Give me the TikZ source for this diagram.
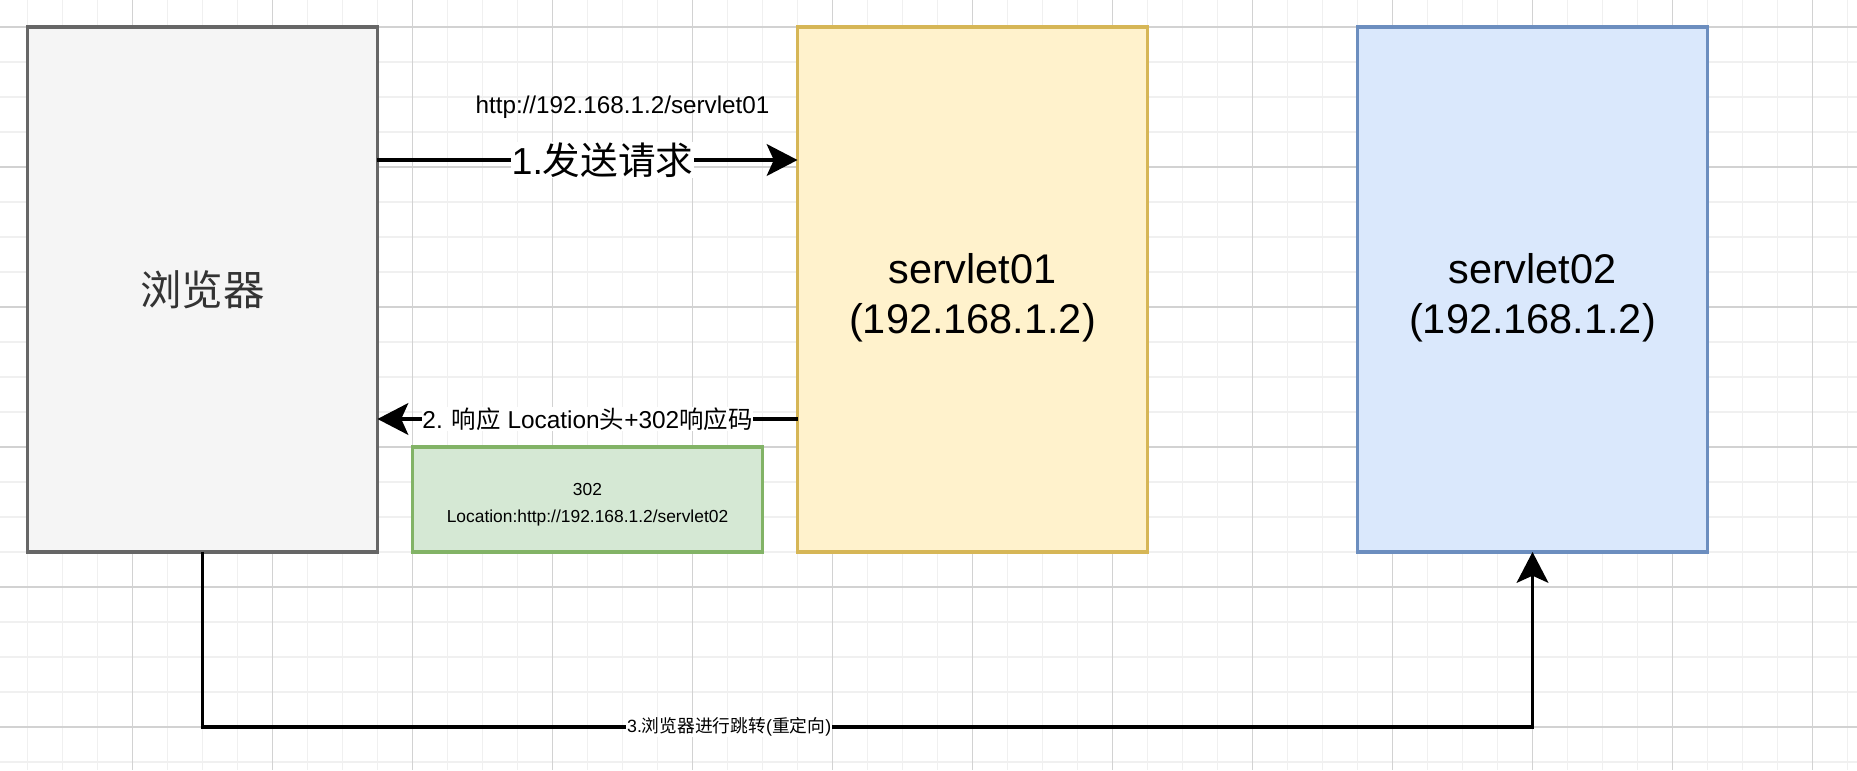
\documentclass[tikz,border=0pt]{standalone}
\usepackage{fontspec}
\setmainfont{Liberation Sans}
\newfontfamily\cjk{Noto Sans CJK SC}
\usetikzlibrary{arrows.meta,positioning}

\definecolor{gridmenor}{HTML}{F0F0F0}
\definecolor{gridmayor}{HTML}{D2D2D2}
\definecolor{grisfondo}{HTML}{F5F5F5}
\definecolor{grisborde}{HTML}{666666}
\definecolor{gristexto}{HTML}{333333}
\definecolor{amarillofondo}{HTML}{FFF2CC}
\definecolor{amarilloborde}{HTML}{D6B656}
\definecolor{azulfondo}{HTML}{DAE8FC}
\definecolor{azulborde}{HTML}{6C8EBF}
\definecolor{verdefondo}{HTML}{D5E8D4}
\definecolor{verdeborde}{HTML}{82B366}

\tikzset{
  caja/.style={draw, line width=2.2pt, outer sep=0pt, inner sep=0pt,
    minimum width=7cm, minimum height=10.5cm, align=center,
    font=\fontsize{23.6}{28.4}\selectfont},
  texto/.style={align=center, inner sep=0pt, yshift=-0.17cm,
    font=\fontsize{23.6}{28.4}\selectfont},
  flecha/.style={line width=2.2pt,
    -{Stealth[length=17.5pt, width=18pt, inset=4pt]}},
  etiqueta/.style={fill=white, inner sep=0.5pt},
}

\begin{document}
\begin{tikzpicture}[x=0.07cm, y=-0.07cm]
        % Paso 1: Fondo y cuadrícula
        \useasboundingbox[fill=white] (-7.857,-7.714) rectangle (522.714,212.286);
        \foreach \x in {-10,0,...,520}
            \draw[gridmenor, line width=0.6pt] (\x,-7.714) -- (\x,212.286);
        \foreach \y in {-10,0,...,210}
            \draw[gridmenor, line width=0.6pt] (-7.857,\y) -- (522.714,\y);
        \foreach \x in {-10,30,...,510}
            \draw[gridmayor, line width=0.6pt] (\x,-7.714) -- (\x,212.286);
        \foreach \y in {0,40,...,200}
            \draw[gridmayor, line width=0.6pt] (-7.857,\y) -- (522.714,\y);

        % Paso 2: Navegador y servlets
        \node[caja, fill=grisfondo, draw=grisborde, text=gristexto] (navegador) at (50,75) {\cjk 浏览器};
        \node[caja, fill=amarillofondo, draw=amarilloborde,
              label={[texto]center:servlet01\\(192.168.1.2)}] (servlet1) at (270,75) {};
        \node[caja, fill=azulfondo, draw=azulborde,
              label={[texto]center:servlet02\\(192.168.1.2)}] (servlet2) at (430,75) {};

        % Paso 3: Caja con la respuesta 302
        \node[caja, minimum height=2.1cm, fill=verdefondo, draw=verdeborde,
              label={[texto, yshift=0.06cm, font=\fontsize{9.9}{15.4}\selectfont]center:302\\Location:http://192.168.1.2/servlet02}]
              (respuesta) at (160,135) {};

        % Paso 4: Petición al servlet01
        \node[font=\fontsize{13.8}{16}\selectfont] (url1) at (170,23) {http://192.168.1.2/servlet01};
        \draw[flecha] ([yshift=-2.66cm]navegador.north east)
            -- node[etiqueta, xshift=0.3cm, font=\fontsize{21.4}{24}\selectfont] (paso1) {1.{\cjk 发送请求}}
            ([yshift=-2.66cm]servlet1.north west);

        % Paso 5: Respuesta con Location
        \draw[flecha] ([yshift=-7.84cm]servlet1.north west)
            -- node[etiqueta, font=\fontsize{13.9}{16}\selectfont] (paso2) {2. {\cjk 响应} Location{\cjk 头}+302{\cjk 响应码}}
            ([yshift=-7.84cm]navegador.north east);

        % Paso 6: Redirección al servlet02
        \coordinate (codo) at ([yshift=-3.5cm]navegador.south);
        \draw[flecha] (navegador.south) -- (codo)
            -| node[etiqueta, pos=0.198, font=\fontsize{10.1}{12}\selectfont] (paso3) {3.{\cjk 浏览器进行跳转}({\cjk 重定向})}
            (servlet2.south);
\end{tikzpicture}
\end{document}
